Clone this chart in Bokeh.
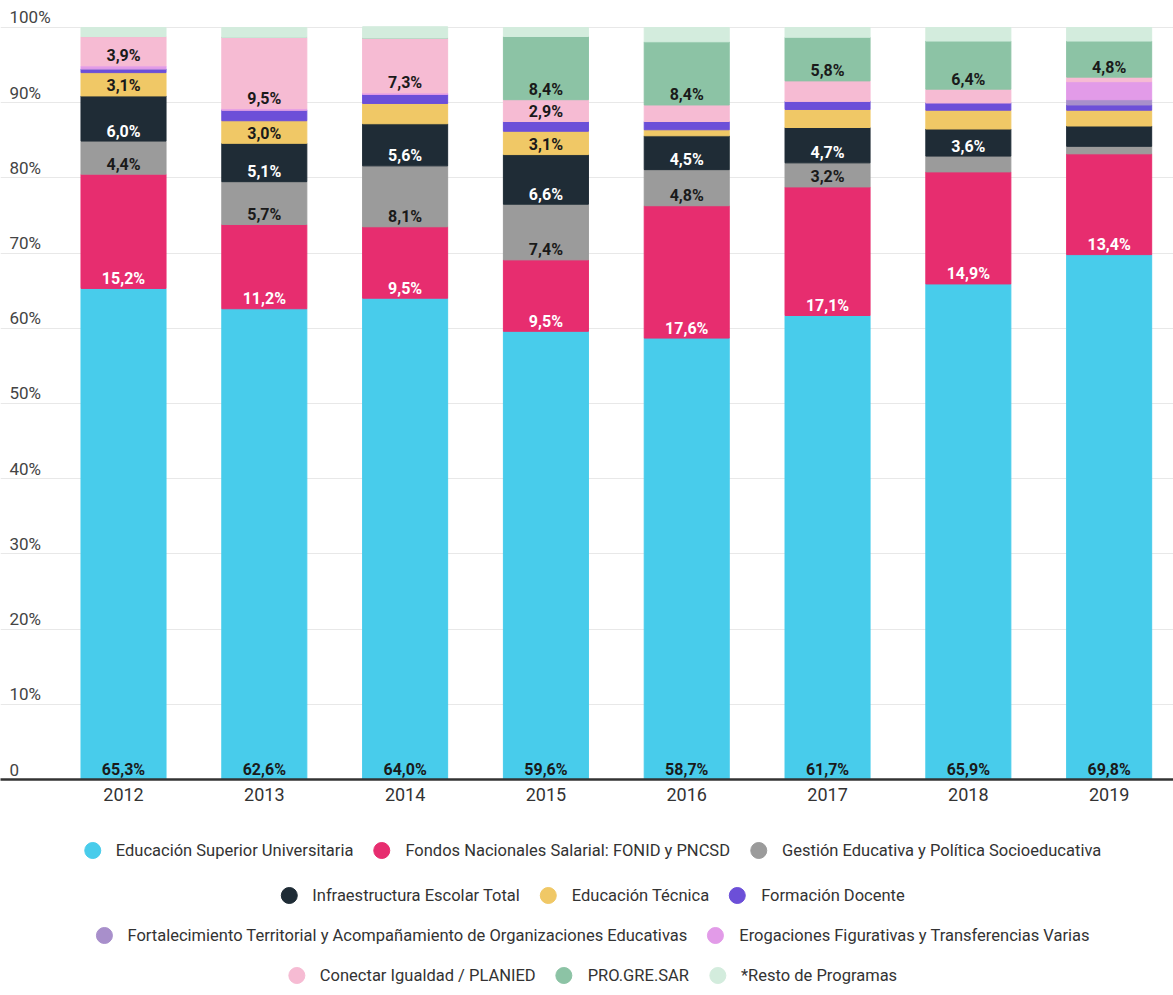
import numpy as np
from bokeh.plotting import figure
from bokeh.models import ColumnDataSource, Range1d, FixedTicker, Grid, Legend, LegendItem
from bokeh.layouts import column
from bokeh.embed import file_html
from bokeh.resources import INLINE
from bokeh.core.properties import value

# ---------------- data ----------------
years = ["2012", "2013", "2014", "2015", "2016", "2017", "2018", "2019"]

series_names = [
    "Educación Superior Universitaria",
    "Fondos Nacionales Salarial: FONID y PNCSD",
    "Gestión Educativa y Política Socioeducativa",
    "Infraestructura Escolar Total",
    "Educación Técnica",
    "Formación Docente",
    "Fortalecimiento Territorial y Acompañamiento de Organizaciones Educativas",
    "Erogaciones Figurativas y Transferencias Varias",
    "Conectar Igualdad / PLANIED",
    "PRO.GRE.SAR",
    "*Resto de Programas",
]

educacion_superior = [65.3, 62.6, 64.0, 59.6, 58.7, 61.7, 65.9, 69.8]
fondos_nacionales = [15.2, 11.2, 9.5, 9.5, 17.6, 17.1, 14.9, 13.4]
gestion_educativa = [4.4, 5.7, 8.1, 7.4, 4.8, 3.2, 2.1, 1.0]
infraestructura = [6.0, 5.1, 5.6, 6.6, 4.5, 4.7, 3.6, 2.7]
educacion_tecnica = [3.1, 3.0, 2.7, 3.1, 0.8, 2.4, 2.5, 2.1]
formacion_docente = [0.5, 1.4, 1.2, 1.3, 1.1, 1.1, 1.0, 0.7]
fortalecimiento = [0.0, 0.0, 0.0, 0.0, 0.0, 0.0, 0.0, 0.7]
erogaciones = [0.4, 0.2, 0.2, 0.0, 0.0, 0.0, 0.0, 2.4]
conectar_igualdad = [3.9, 9.5, 7.3, 2.9, 2.2, 2.7, 1.8, 0.6]
progresar = [0.0, 0.0, 0.0, 8.4, 8.4, 5.8, 6.4, 4.8]
resto = [1.2, 1.3, 1.5, 1.2, 1.9, 1.3, 1.8, 1.8]

y_ticks = [0, 10, 20, 30, 40, 50, 60, 70, 80, 90, 100]
y_tick_labels = ["0", "10%", "20%", "30%", "40%", "50%", "60%", "70%", "80%", "90%", "100%"]

# ---------------- style ----------------
colors = ["#48CCEB", "#E72D6F", "#9B9B9B", "#1F2C36", "#F0C866", "#6C4FD8",
          "#A88FCB", "#E29BE8", "#F6BBD3", "#8CC3A5", "#D3ECDD"]
label_colors = ["#1a1a1a", "#ffffff", "#1a1a1a", "#ffffff", "#1a1a1a", "#ffffff",
                "#1a1a1a", "#1a1a1a", "#1a1a1a", "#1a1a1a", "#1a1a1a"]
FONT = "Roboto"
W = 1173

series = [educacion_superior, fondos_nacionales, gestion_educativa, infraestructura,
          educacion_tecnica, formacion_docente, fortalecimiento, erogaciones,
          conectar_igualdad, progresar, resto]
keys = ["s%d" % i for i in range(len(series))]

x_idx = list(range(len(years)))
data = {"x": x_idx}
for k, vals in zip(keys, series):
    data[k] = vals
source = ColumnDataSource(data)

X_START, X_END = -0.8736, 7.457
p = figure(width=W, height=830,
           x_range=Range1d(X_START, X_END), y_range=Range1d(0, 103.59),
           output_backend="svg", toolbar_location=None, y_axis_type=None,
           min_border_left=0, min_border_right=0, min_border_top=0, min_border_bottom=51)
p.outline_line_color = None
p.xgrid.visible = False
p.add_layout(Grid(dimension=1, ticker=FixedTicker(ticks=y_ticks[1:]),
                  grid_line_color="#e8e8e8", grid_line_width=1))

p.vbar_stack(keys, x="x", width=0.604, color=colors, source=source)

# segment labels
lx, ly, lt, lc = [], [], [], []
for j in x_idx:
    base = 0.0
    for i, vals in enumerate(series):
        v = vals[j]
        if v >= 2.85:
            lx.append(j)
            ly.append(base)
            lt.append(("%.1f" % v).replace(".", ",") + "%")
            lc.append(label_colors[i])
        base += v
lab_src = ColumnDataSource(dict(x=lx, y=ly, text=lt, color=lc))
p.text(x="x", y="y", text="text", text_color="color", source=lab_src,
       text_align="center", text_baseline="alphabetic", y_offset=-10,
       text_font=value(FONT), text_font_size="16px", text_font_style="bold")

# y tick labels inside the plot
ysrc = ColumnDataSource(dict(x=[X_START] * len(y_ticks), y=y_ticks, text=y_tick_labels))
p.text(x="x", y="y", text="text", source=ysrc, x_offset=9, y_offset=-10,
       text_align="left", text_baseline="alphabetic", text_color="#444444",
       text_font=value(FONT), text_font_size="17px")

xa = p.xaxis[0]
xa.ticker = FixedTicker(ticks=x_idx)
xa.major_label_overrides = {i: y for i, y in zip(x_idx, years)}
xa.axis_line_color = "#333333"
xa.axis_line_width = 2.5
xa.major_tick_line_color = None
xa.minor_tick_line_color = None
xa.major_tick_out = 0
xa.minor_tick_out = 0
xa.major_label_standoff = 8
xa.major_label_text_font = FONT
xa.major_label_text_font_size = "18px"
xa.major_label_text_color = "#333333"


# ---------------- legend (two small figures, two centred rows each) ----------------
def legend_figure(row_a, row_b, height):
    lf = figure(width=W, height=height, x_range=Range1d(0, 1), y_range=Range1d(0, 1),
                x_axis_type=None, y_axis_type=None, toolbar_location=None,
                output_backend="svg", min_border=0)
    lf.outline_line_color = None
    lf.xgrid.visible = False
    lf.ygrid.visible = False
    rends = {}
    for i in row_a + row_b:
        # legend proxy: one NaN point, so nothing is drawn in the plot area
        rends[i] = lf.scatter(x=np.array([np.nan]), y=np.array([np.nan]),
                              marker="circle", size=10, color=colors[i])
    for row, loc in ((row_a, "top_center"), (row_b, "bottom_center")):
        leg = Legend(items=[LegendItem(label=series_names[i], renderers=[rends[i]]) for i in row],
                     orientation="horizontal", location=loc,
                     glyph_width=40, glyph_height=40, label_standoff=4, spacing=8,
                     padding=0, margin=0, border_line_color=None, background_fill_alpha=0,
                     label_text_font=FONT, label_text_font_size="16.5px",
                     label_text_color="#333333")
        lf.add_layout(leg, "center")
    return lf


legend_top = legend_figure([0, 1, 2], [3, 4, 5], 85)
legend_bottom = legend_figure([6, 7], [8, 9, 10], 80)

layout = column(p, legend_top, legend_bottom, spacing=0)
open("out.html", "w").write(file_html(layout, INLINE))
